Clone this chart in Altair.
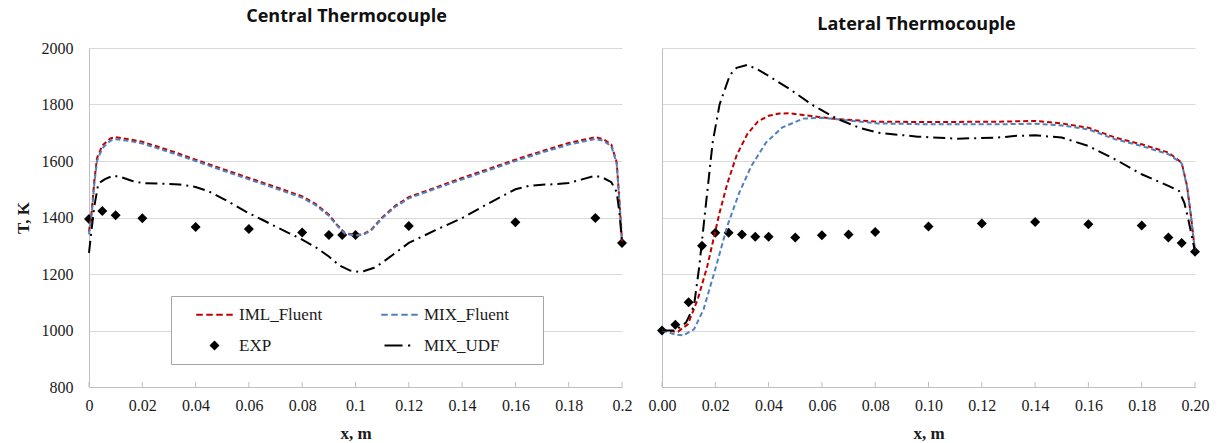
import altair as alt
import pandas as pd

# ---------------- data ----------------
series_names = ["IML_Fluent", "MIX_Fluent", "EXP", "MIX_UDF"]
series_colors = ["#c00000", "#4f81bd", "#000000", "#000000"]
series_dash = [[5, 3], [5, 3], [1, 0], [12, 5, 2, 5]]

y_ticks = [800, 1000, 1200, 1400, 1600, 1800, 2000]
x_ticks = [0, 0.02, 0.04, 0.06, 0.08, 0.1, 0.12, 0.14, 0.16, 0.18, 0.2]

# Central thermocouple
c_x_fl = [0, 0.001, 0.002, 0.003, 0.005, 0.008, 0.01, 0.015, 0.02, 0.03, 0.04, 0.05, 0.06, 0.07,
          0.08, 0.085, 0.09, 0.093, 0.096, 0.1, 0.103, 0.106, 0.11, 0.115, 0.12, 0.13, 0.14, 0.15,
          0.16, 0.17, 0.18, 0.19, 0.193, 0.196, 0.198, 0.199, 0.2]
c_t_iml = [1350, 1420, 1530, 1610, 1655, 1680, 1684, 1677, 1668, 1638, 1605, 1572, 1540, 1508,
           1475, 1448, 1410, 1375, 1345, 1338, 1341, 1358, 1400, 1442, 1472, 1506, 1540, 1572,
           1605, 1635, 1664, 1684, 1678, 1658, 1596, 1465, 1315]
c_t_mix = [1340, 1410, 1520, 1600, 1645, 1672, 1677, 1671, 1662, 1632, 1600, 1567, 1535, 1503,
           1470, 1444, 1406, 1372, 1343, 1336, 1339, 1356, 1397, 1438, 1468, 1502, 1535, 1567,
           1600, 1630, 1658, 1678, 1672, 1652, 1592, 1462, 1315]
c_x_udf = [0, 0.001, 0.002, 0.0035, 0.006, 0.009, 0.012, 0.016, 0.02, 0.027, 0.034, 0.04, 0.045,
           0.05, 0.055, 0.06, 0.065, 0.07, 0.075, 0.08, 0.085, 0.09, 0.094, 0.098, 0.1, 0.103,
           0.107, 0.11, 0.115, 0.12, 0.13, 0.14, 0.15, 0.16, 0.165, 0.17, 0.175, 0.18, 0.185,
           0.19, 0.193, 0.196, 0.198, 0.199, 0.2]
c_t_udf = [1275, 1360, 1440, 1520, 1536, 1548, 1543, 1530, 1522, 1520, 1517, 1508, 1492,
           1468, 1442, 1415, 1392, 1368, 1345, 1322, 1295, 1262, 1230, 1212, 1208, 1210,
           1222, 1240, 1275, 1310, 1355, 1398, 1450, 1500, 1512, 1516, 1518, 1522, 1535,
           1548, 1540, 1525, 1490, 1420, 1315]
c_x_exp = [0, 0.005, 0.01, 0.02, 0.04, 0.06, 0.08, 0.09, 0.095, 0.1, 0.12, 0.16, 0.19, 0.2]
c_t_exp = [1395, 1423, 1408, 1397, 1366, 1359, 1347, 1338, 1338, 1338, 1370, 1383, 1398, 1310]

# Lateral thermocouple
l_x_iml = [0, 0.003, 0.006, 0.0097, 0.0134, 0.017, 0.0216, 0.0245, 0.028, 0.032, 0.036, 0.04,
           0.044, 0.048, 0.056, 0.066, 0.081, 0.1, 0.126, 0.14, 0.15, 0.16, 0.17, 0.18, 0.19,
           0.195, 0.197, 0.1985, 0.2]
l_t_iml = [1000, 998, 996, 1022, 1110, 1228, 1417, 1520, 1620, 1695, 1740, 1760,
           1768, 1769, 1759, 1748, 1739, 1738, 1739, 1742, 1733, 1718, 1683, 1659, 1630,
           1594, 1512, 1405, 1279]
l_x_mix = [0, 0.005, 0.008, 0.012, 0.0156, 0.02, 0.0245, 0.029, 0.0335, 0.039, 0.045, 0.053,
           0.06, 0.081, 0.1, 0.126, 0.14, 0.15, 0.16, 0.17, 0.18, 0.19, 0.195, 0.197, 0.1985, 0.2]
l_t_mix = [1000, 986, 983, 1004, 1075, 1217, 1370, 1488, 1582, 1665, 1718, 1750,
           1753, 1733, 1730, 1730, 1732, 1726, 1712, 1677, 1653, 1624, 1592, 1510, 1403, 1279]
l_x_udf = [0, 0.005, 0.009, 0.012, 0.014, 0.016, 0.019, 0.0216, 0.0255, 0.028, 0.032, 0.0357,
           0.039, 0.048, 0.057, 0.066, 0.074, 0.081, 0.096, 0.111, 0.126, 0.133, 0.14, 0.15,
           0.16, 0.17, 0.18, 0.19, 0.194, 0.196, 0.1975, 0.2]
l_t_udf = [1000, 1000, 1028, 1087, 1228, 1405, 1665, 1800, 1905, 1930, 1940, 1925,
           1907, 1854, 1795, 1748, 1718, 1700, 1686, 1679, 1683, 1689, 1691, 1683,
           1653, 1606, 1553, 1512, 1494, 1452, 1393, 1279]
l_x_exp = [0, 0.005, 0.01, 0.015, 0.02, 0.025, 0.03, 0.035, 0.04, 0.05, 0.06, 0.07, 0.08,
           0.1, 0.12, 0.14, 0.16, 0.18, 0.19, 0.195, 0.2]
l_t_exp = [1000, 1020, 1100, 1300, 1346, 1346, 1340, 1332, 1332, 1329, 1337, 1340, 1349,
           1368, 1379, 1384, 1376, 1372, 1329, 1310, 1279]


def lines_df(parts):
    rows = []
    for name, xs, ts in parts:
        for x, t in zip(xs, ts):
            rows.append({"x": x, "T": t, "series": name})
    return pd.DataFrame(rows)


central_lines = lines_df([("IML_Fluent", c_x_fl, c_t_iml), ("MIX_Fluent", c_x_fl, c_t_mix),
                          ("MIX_UDF", c_x_udf, c_t_udf)])
central_exp = pd.DataFrame({"x": c_x_exp, "T": c_t_exp, "series": "EXP"})
lateral_lines = lines_df([("IML_Fluent", l_x_iml, l_t_iml), ("MIX_Fluent", l_x_mix, l_t_mix),
                          ("MIX_UDF", l_x_udf, l_t_udf)])
lateral_exp = pd.DataFrame({"x": l_x_exp, "T": l_t_exp, "series": "EXP"})
tick_df = pd.DataFrame({"x": x_ticks})

# ---------------- styling ----------------
W, H = 533, 339
GRID = "#d9d9d9"
DOMAIN = "#bfbfbf"
SERIF = "Liberation Serif"
TXT = "#1a1a1a"


def bar_path(segments, h):
    # legend glyph made of filled horizontal bars (unit square -1..1 coordinates)
    return "".join(f"M{a},{-h}H{b}V{h}H{a}Z" for a, b in segments)


dash_glyph = bar_path([(-3.65, -2.35), (-1.65, -0.35), (0.35, 1.65), (2.35, 3.65)], 0.2)
dashdot_glyph = bar_path([(-3.0, 0.6), (1.7, 2.15)], 0.22)
series_shapes = [dash_glyph, dash_glyph, "diamond", dashdot_glyph]

color_scale = alt.Scale(domain=series_names, range=series_colors)
dash_scale = alt.Scale(domain=series_names, range=series_dash)
shape_scale = alt.Scale(domain=series_names, range=series_shapes)

BLANK = "\u2800" * 2  # blank glyph that keeps the framed legend as wide as the original
legend_obj = alt.Legend(
    title=None, orient="none", legendX=82, legendY=248, columns=2, direction="horizontal",
    padding=10, rowPadding=13, columnPadding=43,
    strokeColor="#a6a6a6", fillColor="white",
    symbolSize=100, symbolOffset=25, labelOffset=16, symbolStrokeWidth=0,
    labelFont=SERIF, labelFontSize=17, labelColor=TXT,
    labelExpr=f"datum.label == 'MIX_Fluent' ? datum.label + '{BLANK}' : datum.label",
)


def panel(lines, exp, title, fmt, show_y, show_legend, title_dx):
    lg = legend_obj if show_legend else None
    x_axis = alt.Axis(values=x_ticks, format=fmt, title="x, m", grid=False,
                      ticks=False, labelPadding=10, titlePadding=12,
                      domainColor=DOMAIN, labelFont=SERIF, labelFontSize=16,
                      labelColor=TXT, titleFont=SERIF, titleFontSize=17,
                      titleFontWeight="bold", titleColor=TXT, labelFlush=False)
    x_enc = alt.X("x:Q", scale=alt.Scale(domain=[0, 0.2], nice=False), axis=x_axis)
    if show_y:
        y_axis = alt.Axis(values=y_ticks, format="d", title="T, K", grid=True, gridColor=GRID,
                          ticks=False, labelPadding=16, titlePadding=9, domainColor=DOMAIN,
                          labelFont=SERIF, labelFontSize=16, labelColor=TXT, titleFont=SERIF,
                          titleFontSize=17, titleFontWeight="bold", titleColor=TXT)
    else:
        y_axis = alt.Axis(values=y_ticks, title=None, labels=False, ticks=False, grid=True,
                          gridColor=GRID, domainColor=DOMAIN)
    y_enc = alt.Y("T:Q", scale=alt.Scale(domain=[800, 2000], nice=False), axis=y_axis)

    pt_layer = alt.Chart(exp).mark_point(filled=True, size=100, opacity=1).encode(
        x=x_enc, y=y_enc,
        color=alt.Color("series:N", scale=color_scale, legend=lg),
        shape=alt.Shape("series:N", scale=shape_scale, legend=lg),
    )
    line_layer = alt.Chart(lines).mark_line(strokeWidth=2).encode(
        x=x_enc, y=y_enc,
        color=alt.Color("series:N", scale=color_scale, legend=lg),
        strokeDash=alt.StrokeDash("series:N", scale=dash_scale, legend=lg),
    )
    tick_layer = alt.Chart(tick_df).mark_rule(color=DOMAIN, strokeWidth=1).encode(
        x=x_enc, y=alt.value(H), y2=alt.value(H - 5))
    return alt.layer(pt_layer, line_layer, tick_layer).properties(
        width=W, height=H,
        title=alt.TitleParams(title, font="Open Sans", fontSize=18, fontWeight="bold",
                              color="#111111", anchor="middle", dx=title_dx, offset=14),
    )


left = panel(central_lines, central_exp, "Central Thermocouple", "~g", True, True, -9)
right = panel(lateral_lines, lateral_exp, "Lateral Thermocouple", ".2f", False, False, -12)

chart = alt.hconcat(left, right, spacing=40, bounds="flush").resolve_scale(
    color="independent", strokeDash="independent", shape="independent").resolve_legend(
    color="independent", strokeDash="independent", shape="independent").properties(
    padding={"left": 14, "top": 8, "right": 5, "bottom": 0},
    background="white",
).configure_view(stroke=None)

chart.save("out.html", embed_options={"renderer": "svg", "actions": False})
